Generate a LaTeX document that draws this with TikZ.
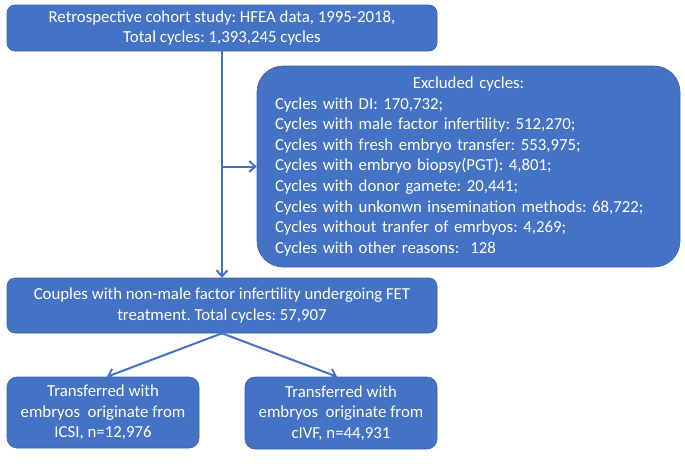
\documentclass[tikz,border=0pt]{standalone}
\usepackage{fontspec}
\setmainfont{Carlito}
\frenchspacing
\usetikzlibrary{arrows.meta}
\definecolor{obox}{HTML}{4472C4}
\tikzset{
  box/.style={fill=obox, draw=obox!85!black, line width=0.6pt, text=white, align=center,
    font=\fontsize{16.8}{20.6}\selectfont, inner sep=0pt},
  conn/.style={draw=obox, line width=2pt, -{Straight Barb[length=6pt,width=11pt]}},
}
\begin{document}
\begin{tikzpicture}[x=1pt,y=-1pt]
\useasboundingbox (0,0) rectangle (685,463);
\node[box, rounded corners=8pt, minimum width=430pt, minimum height=46pt] (top) at (222,28)
  {Retrospective cohort study: HFEA data, 1995-2018,\\Total cycles: 1,393,245 cycles};
\node[box, rounded corners=26pt, minimum width=423pt, minimum height=201pt, text width=387pt, align=left] (excl) at (468.5,166.5)
  {\makebox[387pt]{Excluded cycles:}\\
   Cycles with DI: 170,732;\\
   Cycles with male factor infertility: 512,270;\\
   Cycles with fresh embryo transfer: 553,975;\\
   Cycles with embryo biopsy(PGT): 4,801;\\
   Cycles with donor gamete: 20,441;\\
   Cycles with unkonwn insemination methods: 68,722;\\
   Cycles without tranfer of emrbyos: 4,269;\\
   Cycles with other reasons:\ \ 128};
\node[box, rounded corners=8pt, minimum width=430pt, minimum height=55pt] (fet) at (222,305.5)
  {Couples with non-male factor infertility undergoing FET\\treatment. Total cycles: 57,907};
\node[box, rounded corners=10pt, minimum width=192pt, minimum height=71pt] (left) at (103,412.5)
  {Transferred with\\embryos\ \ originate from\\ICSI, n=12,976};
\node[box, rounded corners=10pt, minimum width=192pt, minimum height=72pt] (right) at (341,413)
  {Transferred with\\embryos\ \ originate from\\cIVF, n=44,931};
\coordinate (j) at (222,166.5);
\path[conn] (top.south) -- (fet.north);
\path[conn] (j) -- (excl.west);
\path[conn] (fet.south) -- ([xshift=4pt]left.north);
\path[conn] (fet.south) -- ([xshift=-4pt]right.north);
\end{tikzpicture}
\end{document}
